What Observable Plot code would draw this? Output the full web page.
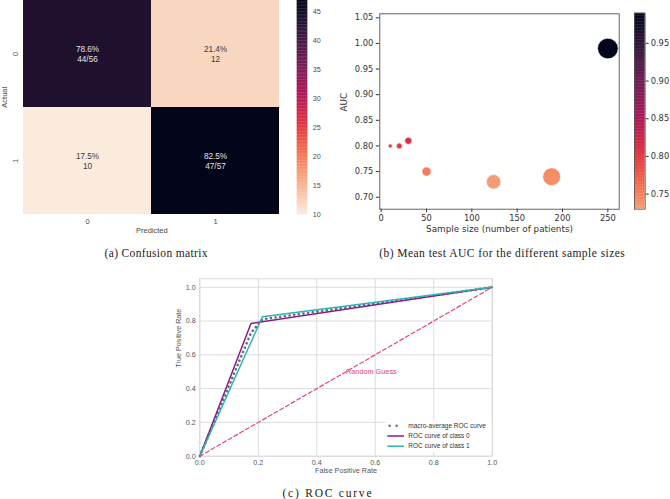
<!DOCTYPE html>
<html><head><meta charset="utf-8">
<script src="https://cdn.jsdelivr.net/npm/d3@7"></script>
<script src="https://cdn.jsdelivr.net/npm/@observablehq/plot@0.6"></script>
<style>
body{margin:0;background:#fff;}
#root{position:relative;width:670px;height:499px;overflow:hidden;background:#fff;}
#root > svg, #root > div{position:absolute;}
</style></head><body><div id="root"></div>
<script>
// ---------- (a) Confusion matrix ----------
const cmActual = ["0", "0", "1", "1"];
const cmPredicted = ["0", "1", "0", "1"];
const cmCount = [44, 12, 10, 47];
const cmLabel = ["78.6%\n44/56", "21.4%\n12", "17.5%\n10", "82.5%\n47/57"];
const cmClasses = ["0", "1"];
const cmColorTicks = [10, 15, 20, 25, 30, 35, 40, 45];
const cmColorDomain = [10, 47];

// ---------- (b) Mean test AUC vs sample size ----------
const sampleSize = [10, 20, 30, 50, 124, 188, 250];
const meanAuc = [0.80, 0.80, 0.81, 0.75, 0.73, 0.74, 0.99];
const sizeTicks = [0, 50, 100, 150, 200, 250];
const aucTicks = [0.70, 0.75, 0.80, 0.85, 0.90, 0.95, 1.00, 1.05];
const aucColorTicks = [0.75, 0.80, 0.85, 0.90, 0.95];
const aucColorDomain = [0.73, 0.99];

// ---------- (c) ROC curve ----------
const fprMacro = [0, 0.175, 0.214, 1];
const tprMacro = [0, 0.73, 0.81, 1];
const fprClass0 = [0, 0.175, 1];
const tprClass0 = [0, 0.786, 1];
const fprClass1 = [0, 0.214, 1];
const tprClass1 = [0, 0.825, 1];
const fprRandom = [0, 1];
const tprRandom = [0, 1];
const rocTicks = [0, 0.2, 0.4, 0.6, 0.8, 1.0];
const guessLabel = "Random Guess";
const guessAt = 0.5;
const legendLabels = ["macro-average ROC curve", "ROC curve of class 0", "ROC curve of class 1"];
const captions = ["(a) Confusion matrix", "(b) Mean test AUC for the different sample sizes", "(c) ROC curve"];

// ---------- helpers ----------
const rocket = d3.piecewise(d3.interpolateRgb, ["#03051a", "#35193e", "#701f57", "#ad1759", "#e13342", "#f37651", "#f6b48f", "#faebdd"]);
const root = document.getElementById("root");
function place(el, left, top) { el.style.left = left + "px"; el.style.top = top + "px"; root.appendChild(el); }
const pts = (xs, ys) => xs.map((x, i) => ({x, y: ys[i]}));

const cmData = cmCount.map((c, i) => ({a: cmActual[i], p: cmPredicted[i], count: c, label: cmLabel[i]}));
const cmColor = {type: "linear", domain: cmColorDomain, interpolate: t => rocket(1 - t)};
const sans = "'Liberation Sans', Arial, sans-serif";

// Heatmap
place(Plot.plot({
  width: 290, height: 240,
  marginLeft: 23.3, marginRight: 10.7, marginTop: 0, marginBottom: 25.7,
  style: {fontFamily: sans, fontSize: "7.5px", color: "#4a4a4a", background: "transparent"},
  x: {domain: cmClasses, padding: 0, label: null},
  y: {domain: cmClasses, padding: 0, label: null},
  color: cmColor,
  marks: [
    Plot.cell(cmData, {x: "p", y: "a", fill: "count", inset: 0}),
    Plot.text(cmData.filter(d => d.count > 30), {x: "p", y: "a", text: "label", fill: "#e4e4e4", fontSize: 8.2, lineHeight: 1.2}),
    Plot.text(cmData.filter(d => d.count <= 30), {x: "p", y: "a", text: "label", fill: "#3c3c3c", fontSize: 8.2, lineHeight: 1.2}),
    Plot.axisX({tickSize: 0, tickPadding: 4, label: null}),
    Plot.axisY({tickSize: 0, tickPadding: 6, tickRotate: -90, label: null}),
    Plot.text(["Predicted"], {frameAnchor: "bottom", dy: 17.7, text: d => d}),
    Plot.text(["Actual"], {frameAnchor: "left", dx: -18.8, rotate: -90, text: d => d})
  ]
}), 0, 0);

// Heatmap colorbar
const cmSteps = d3.range(cmColorDomain[0], cmColorDomain[1], 0.25);
place(Plot.plot({
  width: 40, height: 240,
  marginLeft: 6.7, marginRight: 22.7, marginTop: 0, marginBottom: 25.7,
  style: {fontFamily: sans, fontSize: "7.2px", color: "#4a4a4a", background: "transparent"},
  x: {axis: null, domain: [0, 1]},
  y: {domain: cmColorDomain, label: null},
  color: cmColor,
  marks: [
    Plot.rect(cmSteps, {x1: 0, x2: 1, y1: d => d, y2: d => Math.min(d + 0.3, cmColorDomain[1]), fill: d => d + 0.125}),
    Plot.axisY(cmColorTicks, {anchor: "right", tickSize: 0, tickPadding: 5, label: null})
  ]
}), 290, 0);

// Scatter
const scData = sampleSize.map((n, i) => ({n, auc: meanAuc[i]}));
const aucColor = {type: "linear", domain: aucColorDomain, interpolate: t => rocket(0.8 * (1 - t))};
const dvs = "'DejaVu Sans', sans-serif";
place(Plot.plot({
  width: 300, height: 240,
  marginLeft: 49.3, marginRight: 11.3, marginTop: 13.3, marginBottom: 31.3,
  style: {fontFamily: dvs, fontSize: "8.3px", color: "#333", background: "transparent"},
  x: {domain: [-1.5, 262.5], label: null},
  y: {domain: [0.6766, 1.0578], label: null},
  r: {domain: [0, 250], range: [0, 10.3]},
  color: aucColor,
  marks: [
    Plot.frame({stroke: "#555", strokeWidth: 0.9}),
    Plot.dot(scData, {x: "n", y: "auc", r: "n", fill: "auc", stroke: "white", strokeWidth: 0.6}),
    Plot.axisX(sizeTicks, {tickSize: 3.5, tickPadding: 2.5, label: null}),
    Plot.axisY(aucTicks, {tickSize: 3.5, tickPadding: 3, tickFormat: d3.format(".2f"), label: null}),
    Plot.text(["Sample size (number of patients)"], {frameAnchor: "bottom", dy: 22.3, text: d => d, fontSize: 8.8}),
    Plot.text(["AUC"], {frameAnchor: "left", dx: -36, rotate: -90, text: d => d, fontSize: 8.8})
  ]
}), 330, 0);

// Scatter colorbar
const aucSteps = d3.range(aucColorDomain[0], aucColorDomain[1], 0.002);
place(Plot.plot({
  width: 40, height: 240,
  marginLeft: 4, marginRight: 25.3, marginTop: 12.7, marginBottom: 31.3,
  style: {fontFamily: dvs, fontSize: "8.3px", color: "#333", background: "transparent"},
  x: {axis: null, domain: [0, 1]},
  y: {domain: aucColorDomain, label: null},
  color: aucColor,
  marks: [
    Plot.rect(aucSteps, {x1: 0, x2: 1, y1: d => d, y2: d => Math.min(d + 0.0025, aucColorDomain[1]), fill: d => d + 0.001}),
    Plot.frame({stroke: "#555", strokeWidth: 0.8}),
    Plot.axisY(aucColorTicks, {anchor: "right", tickSize: 3, tickPadding: 2.5, tickFormat: d3.format(".2f"), label: null})
  ]
}), 630, 0);

// ROC
const rocColors = {macro: "#5f6f86", c0: "#8a1c8c", c1: "#2bb5ae", random: "#e0467c"};
place(Plot.plot({
  width: 340, height: 210,
  marginLeft: 39.3, marginRight: 8.3, marginTop: 8.3, marginBottom: 24.3,
  style: {fontFamily: sans, fontSize: "7.2px", color: "#555", background: "transparent"},
  x: {domain: [0, 1], label: null},
  y: {domain: [0, 1.05], label: null},
  marks: [
    Plot.gridX(rocTicks, {stroke: "#d8d8d8", strokeOpacity: 1, strokeWidth: 0.9}),
    Plot.gridY(rocTicks, {stroke: "#d8d8d8", strokeOpacity: 1, strokeWidth: 0.9}),
    Plot.frame({stroke: "#d8d8d8", strokeWidth: 0.9}),
    Plot.line(pts(fprMacro, tprMacro), {x: "x", y: "y", stroke: rocColors.macro, strokeWidth: 2.6, strokeDasharray: "0.1,4.6", strokeLinecap: "round"}),
    Plot.line(pts(fprClass0, tprClass0), {x: "x", y: "y", stroke: rocColors.c0, strokeWidth: 1.5}),
    Plot.line(pts(fprClass1, tprClass1), {x: "x", y: "y", stroke: rocColors.c1, strokeWidth: 1.5}),
    Plot.line(pts(fprRandom, tprRandom), {x: "x", y: "y", stroke: rocColors.random, strokeWidth: 1.2, strokeDasharray: "4,2.6"}),
    Plot.text([guessLabel], {x: guessAt, y: guessAt, text: d => d, textAnchor: "start", fill: rocColors.random, fontSize: 7.3}),
    Plot.axisX(rocTicks, {tickSize: 0, tickPadding: 3.5, tickFormat: d3.format(".1f"), label: null}),
    Plot.axisY(rocTicks, {tickSize: 0, tickPadding: 4, tickFormat: d3.format(".1f"), label: null}),
    Plot.text(["False Positive Rate"], {frameAnchor: "bottom", dy: 16.6, text: d => d}),
    Plot.text(["True Positive Rate"], {frameAnchor: "left", dx: -21, rotate: -90, text: d => d})
  ]
}), 160, 270);

// Overlay: legend + captions
const ov = d3.create("svg").attr("width", 670).attr("height", 499).style("pointer-events", "none");
const lg = ov.append("g").attr("font-family", sans).attr("font-size", 6.5).attr("fill", "#333");
lg.append("rect").attr("x", 385.5).attr("y", 420.5).attr("width", 106).attr("height", 31.5).attr("fill", "white");
const rowsY = [425.7, 436, 446.2];
lg.append("line").attr("x1", 389.5).attr("x2", 397).attr("y1", rowsY[0]).attr("y2", rowsY[0])
  .attr("stroke", rocColors.macro).attr("stroke-width", 2.4).attr("stroke-linecap", "round").attr("stroke-dasharray", "0.1,7");
lg.append("line").attr("x1", 387.3).attr("x2", 404).attr("y1", rowsY[1]).attr("y2", rowsY[1]).attr("stroke", rocColors.c0).attr("stroke-width", 1.5);
lg.append("line").attr("x1", 387.3).attr("x2", 404).attr("y1", rowsY[2]).attr("y2", rowsY[2]).attr("stroke", rocColors.c1).attr("stroke-width", 1.5);
legendLabels.forEach((t, i) => lg.append("text").attr("x", 408.3).attr("y", rowsY[i]).attr("dy", "0.35em").text(t));
const capPos = [[156, 253], [502, 253], [327, 493]];
const capWidth = [103, 245.7, 89];
captions.forEach((t, i) => ov.append("text").attr("x", capPos[i][0]).attr("y", capPos[i][1]).attr("dy", "0.35em")
  .attr("text-anchor", "middle").attr("font-family", "'Liberation Serif', 'Times New Roman', serif").attr("font-size", 11.5)
  .attr("fill", "#222").attr("textLength", capWidth[i]).attr("lengthAdjust", "spacing").text(t));
place(ov.node(), 0, 0);
</script></body></html>
